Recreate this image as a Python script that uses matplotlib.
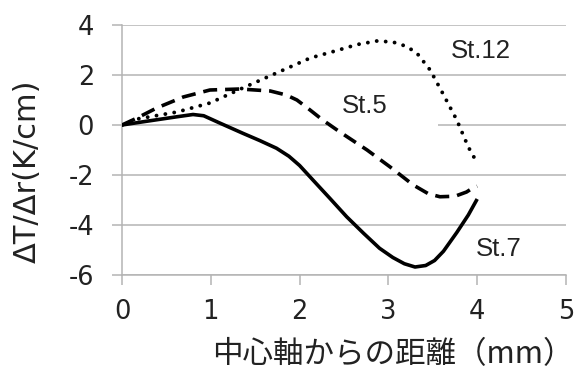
import matplotlib
matplotlib.use("Agg")
import matplotlib.pyplot as plt
from matplotlib.patches import Rectangle

# ---- data ----
x_st7 = [0, 0.24, 0.43, 0.62, 0.8, 0.92, 1.1, 1.36, 1.55, 1.74, 1.88, 2.0, 2.15, 2.34, 2.53, 2.72, 2.9, 3.05, 3.18, 3.3, 3.42, 3.52, 3.62, 3.77, 3.9, 4.0]
y_st7 = [0, 0.13, 0.23, 0.33, 0.42, 0.37, 0.08, -0.33, -0.62, -0.93, -1.25, -1.62, -2.2, -2.93, -3.67, -4.33, -4.93, -5.3, -5.55, -5.68, -5.62, -5.42, -5.05, -4.3, -3.6, -2.96]

x_st5 = [0, 0.17, 0.39, 0.69, 0.99, 1.33, 1.67, 1.85, 1.97, 2.1, 2.26, 2.45, 2.76, 3.02, 3.28, 3.45, 3.58, 3.75, 3.88, 3.95, 4.0]
y_st5 = [0, 0.28, 0.68, 1.12, 1.4, 1.44, 1.36, 1.2, 1.0, 0.65, 0.2, -0.27, -1.0, -1.68, -2.4, -2.75, -2.87, -2.85, -2.68, -2.52, -2.45]

x_st12 = [0, 0.17, 0.62, 0.99, 1.36, 1.74, 2.12, 2.4, 2.65, 2.87, 3.05, 3.2, 3.32, 3.47, 3.61, 3.77, 3.9, 4.0]
y_st12 = [0, 0.24, 0.52, 0.88, 1.48, 2.08, 2.68, 2.96, 3.22, 3.36, 3.32, 3.15, 2.88, 2.2, 1.28, 0.2, -0.88, -1.52]

x_ticks = [0, 1, 2, 3, 4, 5]
y_ticks = [-6, -4, -2, 0, 2, 4]
series_labels = ["St.12", "St.5", "St.7"]
x_label = "中心軸からの距離（mm）"
y_label = "ΔT/Δr(K/cm)"

plt.rcParams['axes.unicode_minus'] = False
plt.rcParams['font.family'] = ['DejaVu Sans']

fig = plt.figure(figsize=(5.74, 3.72), dpi=100)
ax = fig.add_axes([122/574, 1-275/372, 444/574, 250/372])

grid_c = '#b4b4b4'
ax.set_xlim(0, 5)
ax.set_ylim(-6, 4)
ax.set_xticks(x_ticks)
ax.set_yticks(y_ticks)
ax.set_xticklabels([str(v) for v in x_ticks])
ax.set_yticklabels([str(v) for v in y_ticks])
ax.yaxis.grid(True, color=grid_c, linewidth=1.1)
ax.set_axisbelow(True)
for s in ['top', 'right']:
    ax.spines[s].set_visible(False)
for s in ['left', 'bottom']:
    ax.spines[s].set_color(grid_c)
    ax.spines[s].set_linewidth(1.1)
ax.tick_params(axis='both', colors=grid_c, width=1.1, length=7, labelcolor='#222222', labelsize=18.5)
ax.tick_params(axis='x', pad=10)
ax.tick_params(axis='y', pad=13)

# white label box behind St.5
ax.add_patch(Rectangle((0.462, 0.58), 0.25, 0.14, transform=ax.transAxes,
                       facecolor='white', edgecolor='none', zorder=1.5))

lw = 2.6
ax.plot(x_st7, y_st7, color='black', lw=lw, solid_capstyle='butt', solid_joinstyle='round', zorder=3)
ax.plot(x_st5, y_st5, color='black', lw=lw, linestyle=(0, (3.9, 2.2)), dash_capstyle='butt', zorder=3)
ax.plot(x_st12, y_st12, color='black', lw=2.8, linestyle=(0, (0.01, 2.3)), dash_capstyle='round', zorder=3)

lab_font = dict(family='Liberation Sans', fontsize=18.5, color='#222222', ha='center', va='center', zorder=4)
ax.text(0.809, 0.896, series_labels[0], transform=ax.transAxes, **lab_font)
ax.text(0.547, 0.676, series_labels[1], transform=ax.transAxes, **lab_font)
ax.text(0.849, 0.104, series_labels[2], transform=ax.transAxes, **lab_font)

fig.text(27/574, 1-171/372, y_label, rotation=90, ha='center', va='center',
         fontsize=22, color='#222222', family=['DejaVu Sans'])
fig.text(393/574, 1-355/372, x_label, ha='center', va='center',
         fontsize=22, color='#222222', family=['Noto Sans CJK JP', 'DejaVu Sans'])

fig.savefig('out.png', dpi=100)
